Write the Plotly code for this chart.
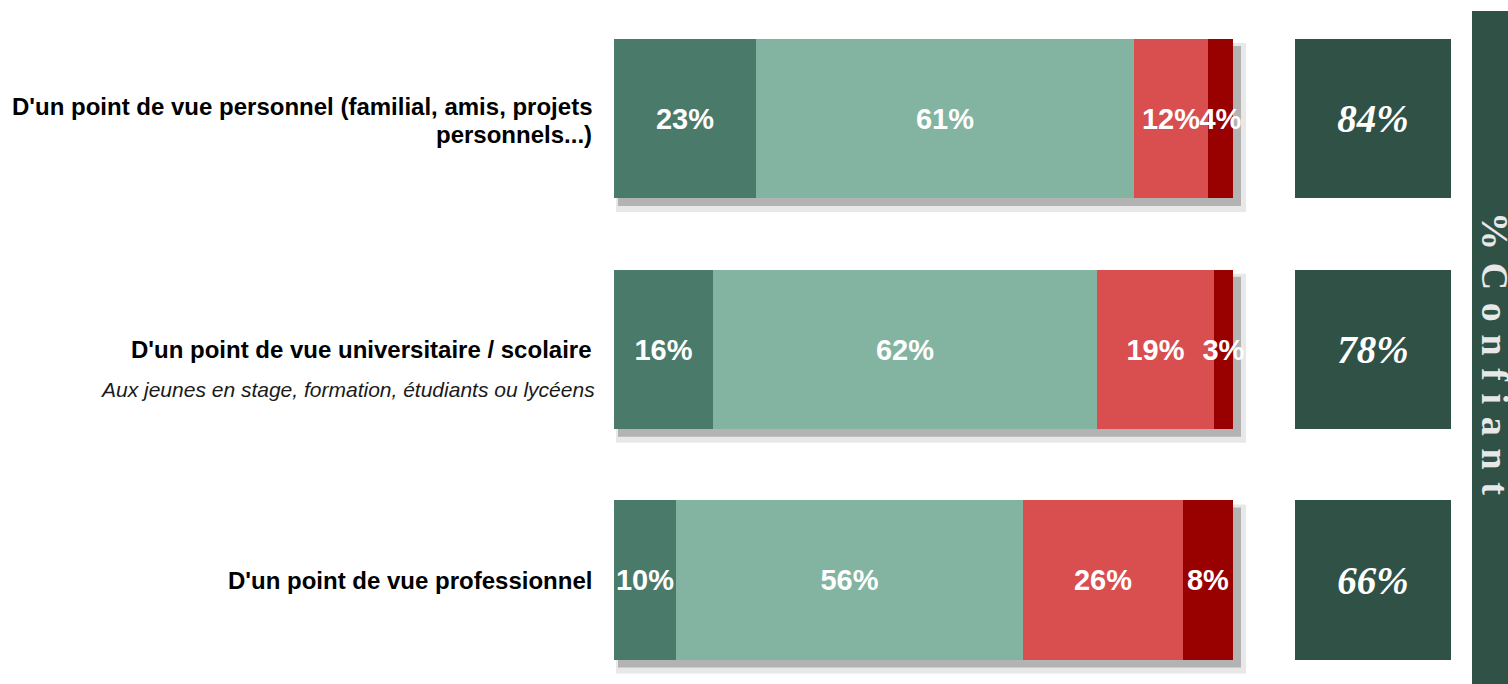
import plotly.graph_objects as go

# ---- data ----
categories = [
    "D'un point de vue personnel (familial, amis, projets<br>personnels...)",
    "D'un point de vue universitaire / scolaire",
    "D'un point de vue professionnel",
]
subtitles = ["", "Aux jeunes en stage, formation, étudiants ou lycéens", ""]
series_names = ["Très confiant", "Plutôt confiant", "Plutôt pas confiant", "Pas du tout confiant"]
series_values = [
    [23, 16, 10],
    [61, 62, 56],
    [12, 19, 26],
    [4, 3, 8],
]
series_colors = ["#4a7a69", "#82b4a1", "#d94e4f", "#990000"]
confiant = [84, 78, 66]
banner_title = "\u2004".join("%Confiant")

W, H = 1508, 684
ypos = list(range(len(categories)))

fig = go.Figure()

for name, vals, col in zip(series_names, series_values, series_colors):
    fig.add_trace(go.Bar(
        y=ypos, x=vals, name=name, orientation="h",
        marker=dict(color=col, line=dict(width=0)),
        width=0.69,
        text=[f"{v}%" for v in vals],
        textposition="inside", insidetextanchor="middle",
        constraintext="none", textangle=0,
        textfont=dict(family="Liberation Sans, Arial", size=29, color="white", weight="bold"),
        hoverinfo="skip", showlegend=False,
    ))

fig.add_trace(go.Bar(
    y=ypos, x=[1] * len(confiant), orientation="h",
    xaxis="x2", yaxis="y",
    marker=dict(color="#2f5146", line=dict(width=0)),
    width=0.69,
    text=[f"{v}%" for v in confiant],
    textposition="inside", insidetextanchor="middle",
    constraintext="none", textangle=0,
    textfont=dict(family="Liberation Serif, DejaVu Serif, serif", size=39, color="white",
                  weight="bold", style="italic"),
    hoverinfo="skip", showlegend=False,
))

# y-axis geometry (pixels): first bar centre at 118.5, step 230.75
px_per_y = 230.75
y_top = -118.5 / px_per_y
y_bot = (H - 118.5) / px_per_y
x0_px, x1_px = 614, 1233
px_per_x = (x1_px - x0_px) / 100.0
x_extra_px = 30  # room on the right of the bars for the drop shadow
x_max = 100 + x_extra_px / px_per_x

shapes = []
half = 0.69 / 2
for i in ypos:
    total = sum(s[i] for s in series_values)
    # light outer shadow
    shapes.append(dict(type="rect", xref="x", yref="y", layer="below",
                       x0=2 / px_per_x, x1=total + 13 / px_per_x,
                       y0=i - half + 4 / px_per_y, y1=i + half + 14 / px_per_y,
                       fillcolor="#e8e8e8", line=dict(width=0)))
    # darker inner shadow
    shapes.append(dict(type="rect", xref="x", yref="y", layer="below",
                       x0=4 / px_per_x, x1=total + 8 / px_per_x,
                       y0=i - half + 7 / px_per_y, y1=i + half + 8 / px_per_y,
                       fillcolor="#b3b3b3", line=dict(width=0)))

# right banner
shapes.append(dict(type="rect", xref="paper", yref="paper",
                   x0=1472 / W, x1=1.01, y0=-0.01, y1=1 - 11 / H,
                   fillcolor="#2f5146", line=dict(width=0)))

annotations = []
line_gap = 28
for i, (cat, sub) in enumerate(zip(categories, subtitles)):
    lines = cat.split("<br>")
    n = len(lines)
    for k, line in enumerate(lines):
        annotations.append(dict(
            xref="paper", yref="y", x=594 / W, y=i, xanchor="right", yanchor="middle",
            yshift=((n - 1) / 2 - k) * line_gap - 2 * (n > 1),
            text=f"<b>{line}</b>", showarrow=False, align="right",
            font=dict(family="Liberation Sans, Arial", size=24, color="#000000"),
        ))
    if sub:
        annotations.append(dict(
            xref="paper", yref="y", x=597 / W, y=i, xanchor="right", yanchor="middle",
            yshift=-40, text=f"<i>{sub}</i>", showarrow=False, align="right",
            font=dict(family="Liberation Sans, Arial", size=21, color="#1a1a1a"),
        ))

annotations.append(dict(
    xref="paper", yref="paper", x=1495 / W, y=1 - 353 / H,
    xanchor="center", yanchor="middle", textangle=90,
    text=f"<b>{banner_title}</b>", showarrow=False,
    font=dict(family="Liberation Serif, DejaVu Serif, serif", size=38, color="#e8e8e8",
              weight="bold"),
))

fig.update_layout(
    width=W, height=H,
    margin=dict(l=0, r=0, t=0, b=0),
    paper_bgcolor="white", plot_bgcolor="rgba(0,0,0,0)",
    barmode="stack", bargap=0,
    showlegend=False,
    xaxis=dict(domain=[x0_px / W, (x1_px + x_extra_px) / W], range=[0, x_max],
               visible=False, fixedrange=True),
    xaxis2=dict(domain=[1295 / W, 1451 / W], range=[0, 1], visible=False, anchor="y", fixedrange=True),
    yaxis=dict(domain=[0, 1], range=[y_bot, y_top], visible=False, fixedrange=True),
    shapes=shapes,
    annotations=annotations,
)

fig.write_html(
    "out.html",
    config={"displayModeBar": False},
    post_script="document.body.style.margin='0';document.body.style.overflow='hidden';",
)
